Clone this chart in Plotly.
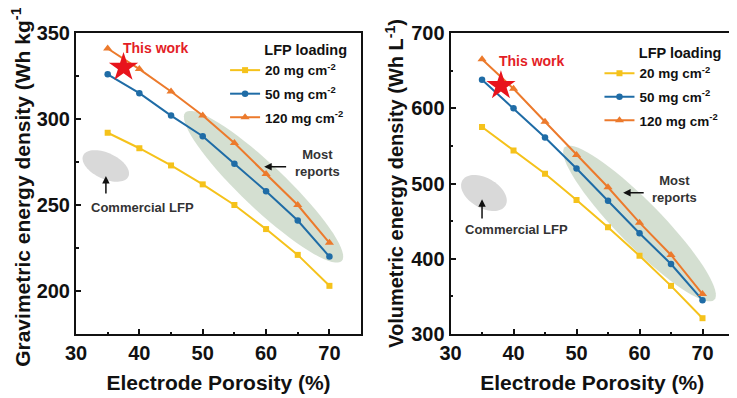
import numpy as np
import plotly.graph_objects as go

# ---------------- data ----------------
porosity = [35, 40, 45, 50, 55, 60, 65, 70]
grav_20 = [292, 283, 273, 262, 250, 236, 221, 203]
grav_50 = [326, 315, 302, 290, 274, 258, 241, 220]
grav_120 = [341, 329, 316, 302, 286, 268, 250, 228]
vol_20 = [575, 544, 513, 478, 442, 404, 364, 321]
vol_50 = [638, 600, 561, 520, 477, 434, 393, 345]
vol_120 = [665, 626, 582, 538, 495, 448, 405, 353]
star_grav = (37.5, 330)
star_vol = (38, 630)
series_names = ["20 mg cm<sup>-2</sup>", "50 mg cm<sup>-2</sup>", "120 mg cm<sup>-2</sup>"]

# ---------------- style ----------------
# page body has an 8px default margin, so the figure is sized to fill the rest of the window
W, H = 729, 390
ML, MR, MT, MB = 68, 1, 25, 64
PW = W - ML - MR
PH = H - MT - MB
dom1 = [0, 0.4333]
dom2 = [0.5692, 1.0]
xr = [30, 75]
yr1 = [175, 350]
yr2 = [300, 700]
colors = ["#f5c21b", "#1f6ca6", "#ec7a2c"]
symbols = ["square", "circle", "triangle-up"]
msizes = [6, 6.5, 8]
FONT = "Liberation Sans, Arial, sans-serif"


def ellipse_path(cx, cy, a_px, b_px, ang_deg, dom, yr):
    """Ellipse defined in screen pixels, returned as data-coordinate SVG path."""
    sx = (dom[1] - dom[0]) * PW / (xr[1] - xr[0])
    sy = PH / (yr[1] - yr[0])
    t = np.linspace(0, 2 * np.pi, 73)
    th = np.deg2rad(ang_deg)
    u = a_px * np.cos(t)
    v = b_px * np.sin(t)
    dxp = u * np.cos(th) - v * np.sin(th)
    dyp = u * np.sin(th) + v * np.cos(th)  # screen y down
    xs = cx + dxp / sx
    ys = cy - dyp / sy
    pts = [f"{x:.4f},{y:.4f}" for x, y in zip(xs, ys)]
    return "M " + " L ".join(pts) + " Z"


fig = go.Figure()

left_sets = [grav_20, grav_50, grav_120]
right_sets = [vol_20, vol_50, vol_120]
for i in range(3):
    fig.add_trace(go.Scatter(
        x=porosity, y=left_sets[i], mode="lines+markers", name=series_names[i],
        line=dict(color=colors[i], width=2),
        marker=dict(symbol=symbols[i], size=msizes[i], color=colors[i]),
        xaxis="x", yaxis="y", legend="legend", legendgroup=f"g{i}"))
for i in range(3):
    fig.add_trace(go.Scatter(
        x=porosity, y=right_sets[i], mode="lines+markers", name=series_names[i],
        line=dict(color=colors[i], width=2),
        marker=dict(symbol=symbols[i], size=msizes[i], color=colors[i]),
        xaxis="x2", yaxis="y2", legend="legend2", legendgroup=f"h{i}"))

fig.add_trace(go.Scatter(x=[star_grav[0]], y=[star_grav[1]], mode="markers",
                         marker=dict(symbol="star", size=22, color="#e8141c"),
                         xaxis="x", yaxis="y", showlegend=False))
fig.add_trace(go.Scatter(x=[star_vol[0]], y=[star_vol[1]], mode="markers",
                         marker=dict(symbol="star", size=22, color="#e8141c"),
                         xaxis="x2", yaxis="y2", showlegend=False))

shapes = [
    dict(type="path", xref="x", yref="y", layer="below", line=dict(width=0),
         fillcolor="#d9d9d9", path=ellipse_path(34.7, 272.7, 25, 13, 25, dom1, yr1)),
    dict(type="path", xref="x", yref="y", layer="below", line=dict(width=0),
         fillcolor="#d4dfd1", path=ellipse_path(59.6, 260.6, 108, 22, 43.4, dom1, yr1)),
    dict(type="path", xref="x2", yref="y2", layer="below", line=dict(width=0),
         fillcolor="#d9d9d9", path=ellipse_path(35.3, 487.4, 25, 15, 30, dom2, yr2)),
    dict(type="path", xref="x2", yref="y2", layer="below", line=dict(width=0),
         fillcolor="#d4dfd1", path=ellipse_path(60.0, 446.8, 107, 22, 45.5, dom2, yr2)),
]

ann_font = dict(family=FONT, size=13, color="#333333", weight="bold")
annotations = [
    dict(xref="x", yref="y", x=42.6, y=341.3, text="This work", showarrow=False,
         font=dict(family=FONT, size=14, color="#e31e26", weight="bold")),
    dict(xref="x2", yref="y2", x=42.9, y=662.8, text="This work", showarrow=False,
         font=dict(family=FONT, size=14, color="#e31e26", weight="bold")),
    dict(xref="x", yref="y", x=40.5, y=248.8, text="Commercial LFP", showarrow=False, font=ann_font),
    dict(xref="x2", yref="y2", x=40.5, y=439, text="Commercial LFP", showarrow=False, font=ann_font),
    dict(xref="x", yref="y", x=68.1, y=274.4, text="Most<br>reports", showarrow=False, font=ann_font),
    dict(xref="x2", yref="y2", x=65.6, y=492.7, text="Most<br>reports", showarrow=False, font=ann_font),
    # arrows
    dict(xref="x", yref="y", axref="x", ayref="y", x=34.72, y=266.9, ax=34.72, ay=255.8,
         text="", showarrow=True, arrowhead=2, arrowsize=1, arrowwidth=1.5, arrowcolor="#111"),
    dict(xref="x2", yref="y2", axref="x2", ayref="y2", x=35.0, y=479, ax=35.0, ay=451.5,
         text="", showarrow=True, arrowhead=2, arrowsize=1, arrowwidth=1.5, arrowcolor="#111"),
    dict(xref="x", yref="y", axref="x", ayref="y", x=59.7, y=272.3, ax=63.4, ay=272.3,
         text="", showarrow=True, arrowhead=2, arrowsize=1, arrowwidth=1.5, arrowcolor="#111"),
    dict(xref="x2", yref="y2", axref="x2", ayref="y2", x=57.4, y=487.8, ax=60.9, ay=487.8,
         text="", showarrow=True, arrowhead=2, arrowsize=1, arrowwidth=1.5, arrowcolor="#111"),
]

tick_font = dict(family=FONT, size=20, color="#111", weight="bold")
title_font = dict(family=FONT, size=21, color="#111", weight="bold")
common_axis = dict(showline=True, linecolor="#111", linewidth=2, mirror=True,
                   ticks="inside", ticklen=5, tickwidth=1.5, tickcolor="#111",
                   showgrid=False, zeroline=False, tickfont=tick_font)

fig.update_layout(
    width=W, height=H,
    margin=dict(l=ML, r=MR, t=MT, b=MB),
    paper_bgcolor="white", plot_bgcolor="white",
    font=dict(family=FONT, color="#111"),
    shapes=shapes, annotations=annotations,
    xaxis=dict(domain=dom1, range=xr, dtick=10, tick0=30,
               minor=dict(dtick=5, ticks="inside", ticklen=2.5, tickwidth=1.5, tickcolor="#111"),
               title=dict(text="Electrode Porosity (%)", font=title_font, standoff=12),
               anchor="y", **common_axis),
    yaxis=dict(domain=[0, 1], range=yr1, tickvals=[200, 250, 300, 350],
               minor=dict(tickvals=[225, 275, 325], ticks="inside", ticklen=2.5, tickwidth=1.5, tickcolor="#111"),
               title=dict(text="Gravimetric energy density (Wh kg<sup>-1</sup>)", font=dict(family=FONT, size=21, color="#111", weight="bold"), standoff=7),
               anchor="x", **common_axis),
    xaxis2=dict(domain=dom2, range=xr, dtick=10, tick0=30,
                minor=dict(dtick=5, ticks="inside", ticklen=2.5, tickwidth=1.5, tickcolor="#111"),
                title=dict(text="Electrode Porosity (%)", font=title_font, standoff=12),
                anchor="y2", **common_axis),
    yaxis2=dict(domain=[0, 1], range=yr2, tickvals=[300, 400, 500, 600, 700],
                minor=dict(tickvals=[350, 450, 550, 650], ticks="inside", ticklen=2.5, tickwidth=1.5, tickcolor="#111"),
                title=dict(text="Volumetric energy density (Wh L<sup>-1</sup>)", font=dict(family=FONT, size=20, color="#111", weight="bold"), standoff=2),
                anchor="x2", **common_axis),
    legend=dict(x=0.415, y=0.99, xanchor="right", yanchor="top",
                bgcolor="rgba(0,0,0,0)", tracegroupgap=3,
                title=dict(text="LFP loading", side="top right",
                           font=dict(family=FONT, size=14.5, color="#111", weight="bold")),
                font=dict(family=FONT, size=13.5, color="#111", weight="bold")),
    legend2=dict(x=0.984, y=0.98, xanchor="right", yanchor="top",
                 bgcolor="rgba(0,0,0,0)", tracegroupgap=3,
                 title=dict(text="LFP loading", side="top right",
                            font=dict(family=FONT, size=14.5, color="#111", weight="bold")),
                 font=dict(family=FONT, size=13.5, color="#111", weight="bold")),
)

fig.write_html("out.html")
